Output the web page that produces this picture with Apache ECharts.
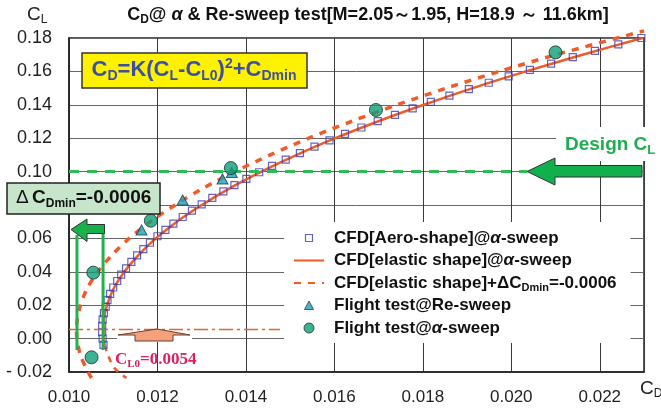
<!DOCTYPE html>
<html><head><meta charset="utf-8">
<script src="https://cdn.jsdelivr.net/npm/echarts/dist/echarts.min.js"></script>
<style>html,body{margin:0;padding:0;background:#fff}#c{width:661px;height:412px}</style>
</head><body><div id="c"></div>
<script>
// ---- data ----
const cfdAeroCL = [0.1800,0.1762,0.1723,0.1685,0.1647,0.1609,0.1570,0.1532,0.1494,0.1455,
  0.1417,0.1379,0.1340,0.1302,0.1264,0.1226,0.1187,0.1149,0.1111,0.1072,
  0.1034,0.0996,0.0957,0.0919,0.0881,0.0843,0.0804,0.0766,0.0728,0.0689,
  0.0651,0.0613,0.0574,0.0536,0.0498,0.0460,0.0421,0.0383,0.0345,0.0306,
  0.0268,0.0230,0.0192,0.0153,0.0115,0.0077,0.0038,0.0000,-0.0038];
const cfdAeroCD = [0.02294,0.02242,0.02189,0.02139,0.02090,0.02042,0.01994,0.01949,0.01904,0.01860,
  0.01818,0.01777,0.01737,0.01698,0.01661,0.01624,0.01589,0.01555,0.01522,0.01490,
  0.01459,0.01430,0.01401,0.01374,0.01349,0.01324,0.01300,0.01278,0.01257,0.01236,
  0.01218,0.01200,0.01183,0.01168,0.01154,0.01141,0.01129,0.01118,0.01109,0.01100,
  0.01093,0.01087,0.01083,0.01079,0.01076,0.01075,0.01075,0.01076,0.01078];
const elasticCL = [-0.004,0.000,0.010,0.020,0.030,0.040,0.050,0.060,0.070,0.080,0.090,0.100,0.110,0.120,0.130,0.140,0.150,0.160,0.170,0.180];
const elasticCD = [0.01081,0.01078,0.01078,0.01086,0.01101,0.01125,0.01157,0.01196,0.01244,0.01300,0.01363,0.01435,0.01515,0.01602,0.01698,0.01802,0.01913,0.02033,0.02161,0.02297];
const elasticLowCL = [-0.004,-0.010,-0.018,-0.0236];
const elasticLowCD = [0.01081,0.01088,0.01104,0.01130];
const shiftedCL = [-0.0236,-0.020,-0.010,0.000,0.005,0.010,0.020,0.030,0.040,0.050,0.060,0.070,0.080,0.090,0.100,0.110,0.120,0.130,0.140,0.150,0.160,0.170,0.1843];
const shiftedCD = [0.01051,0.01043,0.01026,0.01018,0.01017,0.01018,0.01026,0.01041,0.01065,0.01097,0.01136,0.01184,0.01240,0.01303,0.01375,0.01455,0.01542,0.01638,0.01742,0.01853,0.01973,0.02101,0.02300];
const reSweepCD = [0.01164,0.01257,0.01347,0.01368];
const reSweepCL = [0.0650,0.0830,0.0956,0.0995];
const alphaSweepCD = [0.01051,0.01055,0.01185,0.01366,0.01694,0.02100];
const alphaSweepCL = [-0.0112,0.0395,0.0706,0.1021,0.1369,0.1714];
const designCL = 0.10;
const designLineCD = [0.0100, 0.02036];
const cl0 = 0.0054;
const cl0LineCD = [0.0100, 0.01477];
const cdMinLineCD = [0.01018, 0.01077];
const cdMinLineTopCL = [0.0620, 0.0686];
const cdMinLineBottomCL = -0.0068;
const xMin = 0.010, xMax = 0.023, xStep = 0.002;
const yMin = -0.02, yMax = 0.18, yStep = 0.02;

const legendLabels = {
  aero: 'CFD[Aero-shape]@{i|α}-sweep',
  elastic: 'CFD[elastic shape]@{i|α}-sweep',
  shifted: 'CFD[elastic shape]+ΔC{s|Dmin}=-0.0006',
  reSweep: 'Flight test@Re-sweep',
  alphaSweep: 'Flight test@{i|α}-sweep'
};

function zip(xs, ys) { return xs.map((x, i) => [x, ys[i]]); }
const SANS = '"Liberation Sans", Arial, sans-serif';
const ORANGE = '#f15a29';
const GREEN = '#22b14c';
const NOSYM = {color: 'rgba(0,0,0,0)', borderColor: 'rgba(0,0,0,0)', borderWidth: 0, opacity: 0};

const chart = echarts.init(document.getElementById('c'), null, {renderer: 'canvas'});
chart.setOption({
  animation: false,
  backgroundColor: '#fff',
  grid: {left: 69, right: 17, top: 38, bottom: 40, show: true, borderColor: '#222', borderWidth: 1.5, outerBoundsMode: 'none'},
  xAxis: {
    type: 'value', min: xMin, max: xMax, interval: xStep,
    axisLine: {show: true, onZero: false, lineStyle: {color: '#222', width: 1.5}},
    axisTick: {show: false},
    splitLine: {show: true, lineStyle: {color: '#3a3a3a', width: 1}},
    axisLabel: {showMaxLabel: false, margin: 17, fontFamily: SANS, fontSize: 17, color: '#222',
      formatter: v => v.toFixed(3)}
  },
  yAxis: {
    type: 'value', min: yMin, max: yMax, interval: yStep,
    axisLine: {show: true, onZero: false, lineStyle: {color: '#222', width: 1.5}},
    axisTick: {show: false},
    splitLine: {show: true, lineStyle: {color: '#666', width: 1}},
    axisLabel: {margin: 17, fontFamily: SANS, fontSize: 18, color: '#222',
      formatter: v => v < 0 ? '- ' + Math.abs(v).toFixed(2) : v.toFixed(2)}
  },
  legend: {
    orient: 'vertical', left: 284, top: 222, padding: [6, 14, 5, 9],
    backgroundColor: '#fff', itemWidth: 30, itemHeight: 14, itemGap: 2.5,
    selectedMode: false,
    formatter: n => legendLabels[n],
    textStyle: {fontFamily: SANS, fontSize: 17, fontWeight: 'bold', color: '#111', lineHeight: 20, padding: [0, 0, 0, 5],
      rich: {
        i: {fontFamily: SANS, fontSize: 17, fontWeight: 'bold', fontStyle: 'italic', color: '#111', lineHeight: 20},
        s: {fontFamily: SANS, fontSize: 11, fontWeight: 'bold', color: '#111', verticalAlign: 'bottom'}
      }},
    data: [
      {name: 'aero', icon: 'path://M0,0M14,14M3.5,3.5H10.5V10.5H3.5Z', itemStyle: {color: 'rgba(255,255,255,0)', borderColor: '#3c3cb4', borderWidth: 1.2}},
      {name: 'elastic', itemStyle: NOSYM},
      {name: 'shifted', itemStyle: NOSYM},
      {name: 'reSweep', icon: 'path://M0,0M14,14M7,2.5L11.5,11H2.5Z', itemStyle: {color: '#1ba3b9', borderColor: '#1f3f48', borderWidth: 1}},
      {name: 'alphaSweep', icon: 'path://M0,0M14,14M7,2A5,5,0,1,1,6.99,2Z', itemStyle: {color: '#0f9e78', borderColor: '#17352c', borderWidth: 1}}
    ]
  },
  series: [
    {name: 'elastic', type: 'line', data: zip(elasticCD, elasticCL), symbol: 'none', smooth: 0.3, clip: false,
      lineStyle: {color: ORANGE, width: 2.5}, z: 3, silent: true},
    {name: 'elasticLow', type: 'line', data: zip(elasticLowCD, elasticLowCL), symbol: 'none', smooth: 0.3, clip: false,
      lineStyle: {color: ORANGE, width: 2.5, type: [6, 6]}, z: 3, silent: true},
    {name: 'aero', type: 'scatter', data: zip(cfdAeroCD, cfdAeroCL), symbol: 'rect', symbolSize: 7,
      itemStyle: {color: 'rgba(255,255,255,0)', borderColor: '#3c3cb4', borderWidth: 1.2}, z: 4, silent: true},
    {name: 'shifted', type: 'line', data: zip(shiftedCD, shiftedCL), symbol: 'none', smooth: 0.3, clip: false,
      lineStyle: {color: ORANGE, width: 3.5, type: [7, 7]}, z: 5, silent: true},
    {name: 'design', type: 'line', data: [[designLineCD[0], designCL], [designLineCD[1], designCL]], symbol: 'none',
      lineStyle: {color: '#2dbb55', width: 3, type: [10, 8]}, z: 6, silent: true},
    {name: 'cl0line', type: 'line', data: [[cl0LineCD[0], cl0], [cl0LineCD[1], cl0]], symbol: 'none',
      lineStyle: {color: '#e0662c', width: 1.5, type: [14, 4, 3, 4]}, z: 6, silent: true},
    {name: 'cdMinL', type: 'line', data: [[cdMinLineCD[0], cdMinLineBottomCL], [cdMinLineCD[0], cdMinLineTopCL[0]]], symbol: 'none',
      lineStyle: {color: GREEN, width: 3}, z: 6, silent: true},
    {name: 'cdMinR', type: 'line', data: [[cdMinLineCD[1], cdMinLineBottomCL], [cdMinLineCD[1], cdMinLineTopCL[1]]], symbol: 'none',
      lineStyle: {color: GREEN, width: 3}, z: 6, silent: true},
    {name: 'reSweep', type: 'scatter', data: zip(reSweepCD, reSweepCL), symbol: 'triangle', symbolSize: [11, 10],
      itemStyle: {color: '#1ba3b9', borderColor: '#1f3f48', borderWidth: 1}, z: 8, silent: true},
    {name: 'alphaSweep', type: 'scatter', data: zip(alphaSweepCD, alphaSweepCL), symbol: 'circle', symbolSize: 13,
      itemStyle: {color: '#0f9e78', borderColor: '#17352c', borderWidth: 1}, z: 9, silent: true}
  ],
  graphic: [
    // title
    {type: 'text', x: 368, y: 15, z: 100, style: {
      text: '{b|C}{s|D}{b|@ }{i|α}{b| & Re-sweep test[M=2.05～1.95, H=18.9 ～ 11.6km]}',
      align: 'center', verticalAlign: 'middle',
      rich: {
        b: {fontFamily: SANS, fontSize: 18, fontWeight: 'bold', fill: '#111', lineHeight: 22},
        i: {fontFamily: SANS, fontSize: 18, fontWeight: 'bold', fontStyle: 'italic', fill: '#111', lineHeight: 22},
        s: {fontFamily: SANS, fontSize: 12, fontWeight: 'bold', fill: '#111', verticalAlign: 'bottom'}
      }}},
    // axis names
    {type: 'text', x: 27, y: 15, z: 100, style: {text: '{m|C}{s|L}', align: 'left', verticalAlign: 'middle',
      rich: {m: {fontFamily: SANS, fontSize: 19, fill: '#222', lineHeight: 22}, s: {fontFamily: SANS, fontSize: 12, fill: '#222', verticalAlign: 'bottom'}}}},
    {type: 'text', x: 640, y: 389, z: 100, style: {text: '{m|C}{s|D}', align: 'left', verticalAlign: 'middle',
      rich: {m: {fontFamily: SANS, fontSize: 19, fill: '#222', lineHeight: 22}, s: {fontFamily: SANS, fontSize: 12, fill: '#222', verticalAlign: 'bottom'}}}},
    // formula box
    {type: 'rect', z: 50, shape: {x: 82, y: 53, width: 225, height: 35}, style: {fill: '#fff200', stroke: '#333', lineWidth: 1.5}},
    {type: 'text', x: 194, y: 70, z: 51, style: {
      text: '{b|C}{s|D}{b|=K(C}{s|L}{b|-C}{s|L0}{b|)}{p|2}{b|+C}{s|Dmin}',
      align: 'center', verticalAlign: 'middle',
      rich: {
        b: {fontFamily: SANS, fontSize: 22, fontWeight: 'bold', fill: '#3d4fa3', lineHeight: 26},
        s: {fontFamily: SANS, fontSize: 14, fontWeight: 'bold', fill: '#3d4fa3', verticalAlign: 'bottom'},
        p: {fontFamily: SANS, fontSize: 14, fontWeight: 'bold', fill: '#3d4fa3', verticalAlign: 'top'}
      }}},
    // Design CL label
    {type: 'rect', z: 50, shape: {x: 556, y: 127, width: 105, height: 34}, style: {fill: '#fff'}},
    {type: 'text', x: 565, y: 145, z: 51, style: {text: '{b|Design C}{s|L}', align: 'left', verticalAlign: 'middle',
      rich: {b: {fontFamily: SANS, fontSize: 19, fontWeight: 'bold', fill: '#1fae4f', lineHeight: 24},
             s: {fontFamily: SANS, fontSize: 13, fontWeight: 'bold', fill: '#1fae4f', verticalAlign: 'bottom'}}}},
    // Design CL arrow
    {type: 'polygon', z: 52, shape: {points: [[527, 171.5], [555, 158], [555, 165.5], [642, 165.5], [642, 177], [555, 177], [555, 185]]},
      style: {fill: '#12b04c', stroke: '#333', lineWidth: 1}},
    // delta CDmin box
    {type: 'rect', z: 50, shape: {x: 7, y: 183, width: 153, height: 31}, style: {fill: '#c6e5cb', stroke: '#222', lineWidth: 1.5}},
    {type: 'text', x: 16, y: 198, z: 51, style: {text: '{d|Δ} {b|C}{s|Dmin}{b|=-0.0006}', align: 'left', verticalAlign: 'middle',
      rich: {d: {fontFamily: SANS, fontSize: 19, fill: '#111', lineHeight: 24},
             b: {fontFamily: SANS, fontSize: 19, fontWeight: 'bold', fill: '#111', lineHeight: 24},
             s: {fontFamily: SANS, fontSize: 12, fontWeight: 'bold', fill: '#111', verticalAlign: 'bottom'}}}},
    // small green arrow
    {type: 'polygon', z: 52, shape: {points: [[71, 229.5], [87, 219], [87, 224.5], [104.5, 224.5], [104.5, 233.5], [87, 233.5], [87, 241.5]]},
      style: {fill: '#1ab04c', stroke: '#333', lineWidth: 1}},
    // CL0 arrow + label
    {type: 'rect', z: 49, shape: {x: 117, y: 333, width: 75, height: 9}, style: {fill: '#fff'}},
    {type: 'polygon', z: 50, shape: {points: [[118, 335], [157, 329], [190, 335], [173, 335], [173, 341], [135, 341], [135, 335]]},
      style: {fill: '#f5a27c', stroke: '#6b4030', lineWidth: 1}},
    {type: 'text', x: 115, y: 360, z: 51, style: {text: '{b|C}{s|L0}{b|=0.0054}', align: 'left', verticalAlign: 'middle',
      rich: {b: {fontFamily: '"Liberation Serif", "Times New Roman", serif', fontSize: 17, fontWeight: 'bold', fill: '#dd2060', lineHeight: 20},
             s: {fontFamily: '"Liberation Serif", "Times New Roman", serif', fontSize: 11, fontWeight: 'bold', fill: '#dd2060', verticalAlign: 'bottom'}}}}
  ]
});
</script></body></html>
